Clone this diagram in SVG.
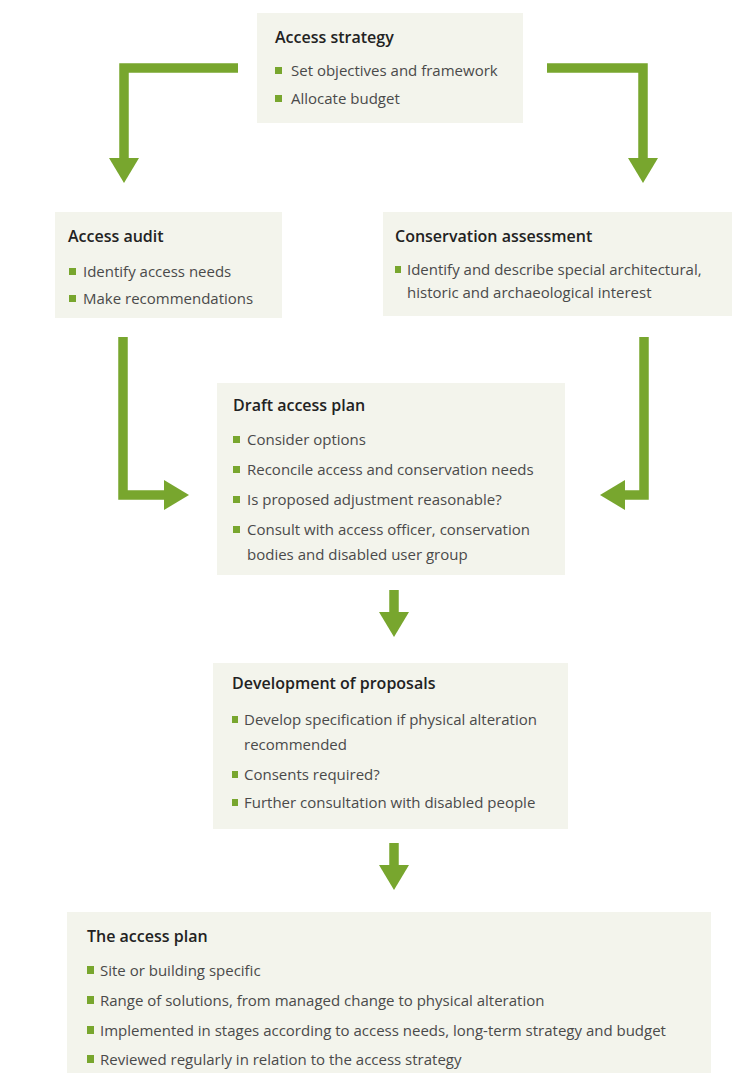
<svg xmlns="http://www.w3.org/2000/svg" width="739" height="1073" viewBox="0 0 739 1073">
<defs>
<marker id="head" markerUnits="userSpaceOnUse" markerWidth="26" markerHeight="30" refX="0" refY="15" orient="auto" viewBox="0 0 26 30">
<path d="M0,0 L25,15 L0,30 Z" fill="#78a62e"/>
</marker>
</defs>
<style>
.box{fill:#f3f4ec}
.t{font-family:"Open Sans","Liberation Sans",sans-serif;font-size:16px;font-weight:600;fill:#222}
.b{font-family:"Open Sans","Liberation Sans",sans-serif;font-size:15px;fill:#4a4a4a}
.sq{fill:#78a62e}
.c{fill:none;stroke:#78a62e;stroke-width:9.5;stroke-linejoin:miter;marker-end:url(#head)}
</style>
<rect width="739" height="1073" fill="#ffffff"/>
<g id="connectors">
<polyline class="c" points="238,68 124,68 124,158"/>
<polyline class="c" points="547,68 643,68 643,158"/>
<polyline class="c" points="123,337 123,495 164,495"/>
<polyline class="c" points="644,337 644,495 625,495"/>
<polyline class="c" points="394,590 394,612"/>
<polyline class="c" points="394,843 394,865"/>
</g>
<g id="access-strategy">
<rect class="box" x="257" y="13" width="266" height="110"/>
<text class="t" x="275" y="43">Access strategy</text>
<rect class="sq" x="275" y="67" width="7" height="7"/>
<text class="b" x="291" y="76">Set objectives and framework</text>
<rect class="sq" x="275" y="95" width="7" height="7"/>
<text class="b" x="291" y="104">Allocate budget</text>
</g>
<g id="access-audit">
<rect class="box" x="55" y="212" width="227" height="106"/>
<text class="t" x="68" y="242">Access audit</text>
<rect class="sq" x="69" y="268" width="7" height="7"/>
<text class="b" x="83" y="277">Identify access needs</text>
<rect class="sq" x="69" y="295" width="7" height="7"/>
<text class="b" x="83" y="304">Make recommendations</text>
</g>
<g id="conservation-assessment">
<rect class="box" x="383" y="212" width="349" height="104"/>
<text class="t" x="395" y="242">Conservation assessment</text>
<rect class="sq" x="395" y="266" width="6" height="7"/>
<text class="b" x="407" y="275">Identify and describe special architectural,</text>
<text class="b" x="407" y="298">historic and archaeological interest</text>
</g>
<g id="draft-access-plan">
<rect class="box" x="217" y="383" width="348" height="192"/>
<text class="t" x="233" y="411">Draft access plan</text>
<rect class="sq" x="233" y="436" width="7" height="7"/>
<text class="b" x="247" y="445">Consider options</text>
<rect class="sq" x="233" y="466" width="7" height="7"/>
<text class="b" x="247" y="475">Reconcile access and conservation needs</text>
<rect class="sq" x="233" y="496" width="7" height="7"/>
<text class="b" x="247" y="505">Is proposed adjustment reasonable?</text>
<rect class="sq" x="233" y="526" width="7" height="7"/>
<text class="b" x="247" y="535">Consult with access officer, conservation</text>
<text class="b" x="247" y="560">bodies and disabled user group</text>
</g>
<g id="development-of-proposals">
<rect class="box" x="213" y="663" width="355" height="166"/>
<text class="t" x="232" y="689">Development of proposals</text>
<rect class="sq" x="232" y="716" width="6" height="7"/>
<text class="b" x="244" y="725">Develop specification if physical alteration</text>
<text class="b" x="244" y="750">recommended</text>
<rect class="sq" x="232" y="771" width="6" height="7"/>
<text class="b" x="244" y="780">Consents required?</text>
<rect class="sq" x="232" y="799" width="6" height="7"/>
<text class="b" x="244" y="808">Further consultation with disabled people</text>
</g>
<g id="the-access-plan">
<rect class="box" x="67" y="912" width="644" height="161"/>
<text class="t" x="87" y="942">The access plan</text>
<rect class="sq" x="87" y="966" width="7" height="8"/>
<text class="b" x="100" y="976">Site or building specific</text>
<rect class="sq" x="87" y="996" width="7" height="8"/>
<text class="b" x="100" y="1006">Range of solutions, from managed change to physical alteration</text>
<rect class="sq" x="87" y="1026" width="7" height="8"/>
<text class="b" x="100" y="1036">Implemented in stages according to access needs, long-term strategy and budget</text>
<rect class="sq" x="87" y="1055" width="7" height="8"/>
<text class="b" x="100" y="1065">Reviewed regularly in relation to the access strategy</text>
</g>
</svg>
